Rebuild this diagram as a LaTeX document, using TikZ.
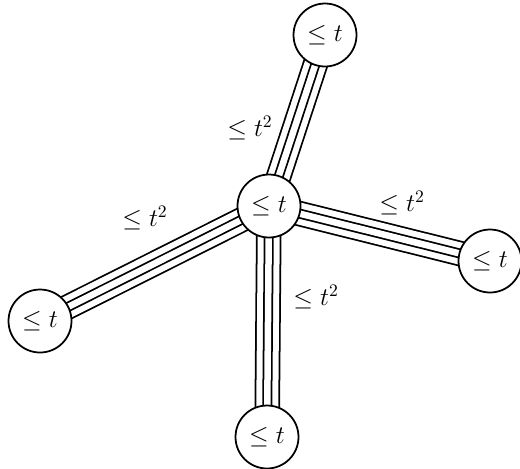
\documentclass[tikz,border=0pt]{standalone}
\usetikzlibrary{backgrounds}

\tikzset{
  vtx/.style={circle,draw,line width=1pt,fill=white,
    minimum size=1.26cm,inner sep=0pt,font=\Large},
  quad/.style={line width=1pt,double distance=0.44cm,
    postaction={draw,line width=1pt,double distance=0.13cm}},
  wlbl/.style={font=\Large}
}

\begin{document}
\begin{tikzpicture}[x=0.02cm,y=-0.02cm]
  \useasboundingbox (0,0) rectangle (520,468);

  % Vertices
  \node[vtx] (vc) at (269,206) {$\leq t$};
  \node[vtx] (vt) at (325,35)  {$\leq t$};
  \node[vtx] (vr) at (490,261) {$\leq t$};
  \node[vtx] (vl) at (40,321)  {$\leq t$};
  \node[vtx] (vb) at (267,437) {$\leq t$};

  % Edges (behind the circles)
  \begin{scope}[on background layer]
    \foreach \v in {vt,vr,vl,vb}
      \draw[quad] (vc.center) -- (\v.center);
  \end{scope}

  % Edge weights
  \node[wlbl] (wt) at (250,128) {$\leq t^2$};
  \node[wlbl] (wl) at (145,218) {$\leq t^2$};
  \node[wlbl] (wr) at (402,203) {$\leq t^2$};
  \node[wlbl] (wb) at (316,297) {$\leq t^2$};

\end{tikzpicture}
\end{document}
